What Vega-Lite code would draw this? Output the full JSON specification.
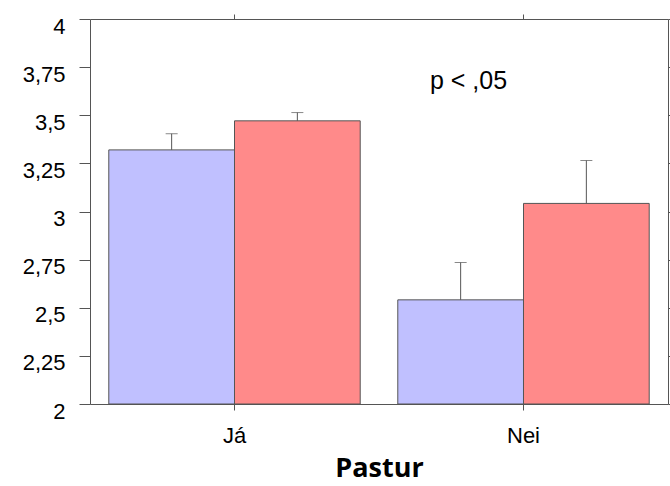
{
  "$schema": "https://vega.github.io/schema/vega-lite/v6.json",
  "autosize": "none",
  "width": 578,
  "height": 385,
  "padding": {"left": 90, "top": 19, "right": 2, "bottom": 82},
  "background": "white",
  "config": {
    "view": {"stroke": null},
    "axis": {"domainColor": "#555555", "tickColor": "#555555", "grid": false, "labelFont": "Liberation Sans", "labelColor": "#000000", "labelFontWeight": "normal"}
  },
  "datasets": {
    "bars": [
      {"Pastur": "Já", "series": "a", "mean": 3.32, "upper": 3.404},
      {"Pastur": "Já", "series": "b", "mean": 3.471, "upper": 3.514},
      {"Pastur": "Nei", "series": "a", "mean": 2.541, "upper": 2.735},
      {"Pastur": "Nei", "series": "b", "mean": 3.042, "upper": 3.265}
    ],
    "note": [
      {"Pastur": "Nei", "y": 3.634, "label": "p < ,05"}
    ]
  },
  "layer": [
    {
      "data": {"name": "bars"},
      "mark": {"type": "bar", "stroke": "#555555", "strokeWidth": 1, "xOffset": 3},
      "encoding": {
        "x": {
          "field": "Pastur", "type": "nominal", "sort": ["Já", "Nei"],
          "scale": {"domain": ["Já", "Nei"], "paddingInner": 0.13, "paddingOuter": 0.065},
          "axis": {"orient": "bottom", "labelAngle": 0, "tickSize": 6, "labelPadding": 15, "labelFontSize": 22,
            "title": "Pastur", "titleFont": "Open Sans", "titleFontWeight": "bold", "titleFontSize": 27, "titleColor": "#000000", "titlePadding": 9}
        },
        "xOffset": {"field": "series", "type": "nominal", "scale": {"domain": ["a", "b"], "paddingInner": 0, "paddingOuter": 0}},
        "y": {
          "field": "mean", "type": "quantitative",
          "scale": {"domain": [2, 4], "nice": false, "zero": false},
          "axis": {"orient": "left", "values": [2, 2.25, 2.5, 2.75, 3, 3.25, 3.5, 3.75, 4], "tickSize": 11, "labelPadding": 14, "labelFontSize": 22, "labelOffset": 7,
            "labelExpr": "replace(format(datum.value, '.2~f'), '.', ',')", "title": null}
        },
        "y2": {"datum": 2},
        "color": {"field": "series", "type": "nominal", "scale": {"domain": ["a", "b"], "range": ["#c0c0ff", "#ff8a8a"]}, "legend": null}
      }
    },
    {
      "data": {"name": "bars"},
      "mark": {"type": "rule", "color": "#555555", "strokeWidth": 1, "xOffset": 2},
      "encoding": {
        "x": {"field": "Pastur", "type": "nominal", "axis": null},
        "xOffset": {"field": "series", "type": "nominal", "scale": {"domain": ["a", "b"], "paddingInner": 0, "paddingOuter": 0}},
        "y": {"field": "mean", "type": "quantitative", "axis": null},
        "y2": {"field": "upper"}
      }
    },
    {
      "data": {"name": "bars"},
      "mark": {"type": "tick", "color": "#555555", "thickness": 1, "size": 12, "xOffset": 2},
      "encoding": {
        "x": {"field": "Pastur", "type": "nominal", "axis": null},
        "xOffset": {"field": "series", "type": "nominal", "scale": {"domain": ["a", "b"], "paddingInner": 0, "paddingOuter": 0}},
        "y": {"field": "upper", "type": "quantitative", "axis": null}
      }
    },
    {
      "data": {"name": "note"},
      "mark": {"type": "text", "font": "Liberation Sans", "fontSize": 25, "color": "#000000", "align": "center", "baseline": "alphabetic", "dx": -55},
      "encoding": {
        "x": {"field": "Pastur", "type": "nominal", "axis": null},
        "y": {"field": "y", "type": "quantitative", "axis": null},
        "text": {"field": "label"}
      }
    },
    {
      "data": {"name": "bars"},
      "mark": {"type": "rule", "opacity": 0},
      "encoding": {
        "x": {"field": "Pastur", "type": "nominal", "axis": {"orient": "top", "labels": false, "tickSize": 5, "title": null}},
        "y": {"field": "mean", "type": "quantitative", "axis": {"orient": "right", "labels": false, "tickSize": 3, "title": null, "values": [2, 2.25, 2.5, 2.75, 3, 3.25, 3.5, 3.75, 4]}}
      }
    }
  ],
  "resolve": {"axis": {"x": "independent", "y": "independent"}}
}
